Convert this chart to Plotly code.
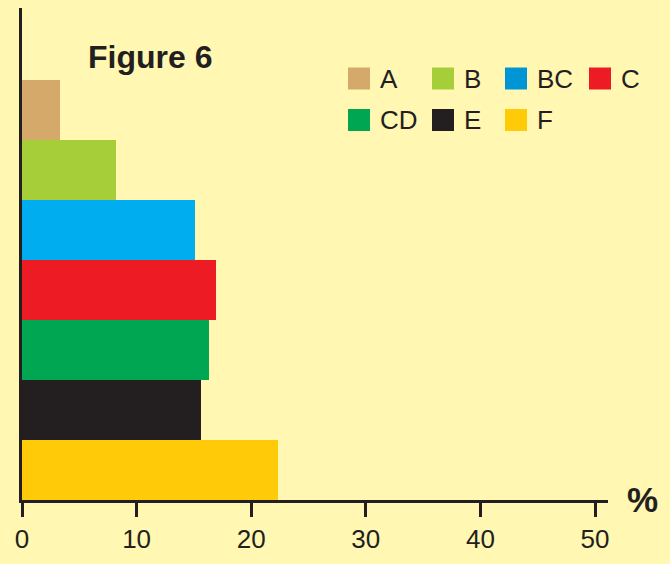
import plotly.graph_objects as go

categories = ["A", "B", "BC", "C", "CD", "E", "F"]
values = [3.3, 8.2, 15.1, 16.9, 16.3, 15.6, 22.3]
colors = ["#D4A96A", "#A6CE39", "#00AEEF", "#ED1C24", "#00A651", "#231F20", "#FFCB08"]
legend_colors = ["#D4A96A", "#A6CE39", "#0096D6", "#ED1C24", "#00A651", "#231F20", "#FFCB08"]
x_ticks = [0, 10, 20, 30, 40, 50]

BG = "#FFF7B2"
INK = "#231F20"
FONT = "Liberation Sans, Arial, sans-serif"

W, H = 670, 564
L, R, T, B = 22, 62, 8, 64
pw, ph = W - L - R, H - T - B

def px(x):
    return (x - L) / pw

def py(y):
    return (H - B - y) / ph

fig = go.Figure()
for cat, val, col in zip(categories, values, colors):
    fig.add_trace(go.Bar(
        orientation="h", x=[val], y=[cat], width=1,
        marker=dict(color=col, line=dict(width=0)),
        showlegend=False, name=cat,
    ))

# manual legend (2 rows x 4 cols)
sw_x = [348, 432, 505, 589]
row_y = [78.5, 120]
shapes = []
annotations = []
for i, (cat, col) in enumerate(zip(categories, legend_colors)):
    r, c = divmod(i, 4)
    x0 = sw_x[c]
    yc = row_y[r]
    shapes.append(dict(type="rect", xref="paper", yref="paper",
                       x0=px(x0), x1=px(x0 + 22), y0=py(yc + 11), y1=py(yc - 11),
                       fillcolor=col, line=dict(width=0), layer="above"))
    annotations.append(dict(text=cat, xref="paper", yref="paper",
                            x=px(x0 + 30), y=py(yc), xanchor="left", yanchor="middle",
                            showarrow=False, font=dict(size=26, color=INK, family=FONT)))

annotations.append(dict(text="<b>Figure 6</b>", xref="paper", yref="paper",
                        x=px(86), y=py(57), xanchor="left", yanchor="middle",
                        showarrow=False, font=dict(size=32, color=INK, family=FONT)))
annotations.append(dict(text="<b>%</b>", xref="paper", yref="paper",
                        x=px(642), y=py(499), xanchor="center", yanchor="middle",
                        showarrow=False, font=dict(size=35, color=INK, family=FONT)))

fig.update_layout(
    width=W, height=H, autosize=False,
    margin=dict(l=L, r=R, t=T, b=B, pad=0),
    paper_bgcolor=BG, plot_bgcolor=BG,
    barmode="overlay", bargap=0,
    shapes=shapes, annotations=annotations,
    font=dict(family=FONT, color=INK),
    xaxis=dict(range=[0, (608 - 22) / 11.46], tickvals=x_ticks,
               ticktext=[str(v) for v in x_ticks],
               showgrid=False, zeroline=False, showline=True,
               linecolor=INK, linewidth=3, ticks="outside", ticklen=14,
               tickwidth=3, tickcolor=INK,
               tickfont=dict(size=26, color=INK, family=FONT)),
    yaxis=dict(type="category", categoryorder="array",
               categoryarray=categories[::-1], range=[-0.5, 7.7],
               showgrid=False, zeroline=False, showline=True,
               linecolor=INK, linewidth=3, showticklabels=False, ticks=""),
)

fig.write_html(
    "out.html",
    config={"displayModeBar": False},
    post_script="document.body.style.margin='0';document.body.style.overflow='hidden';"
                "document.body.style.background='" + BG + "';",
)
